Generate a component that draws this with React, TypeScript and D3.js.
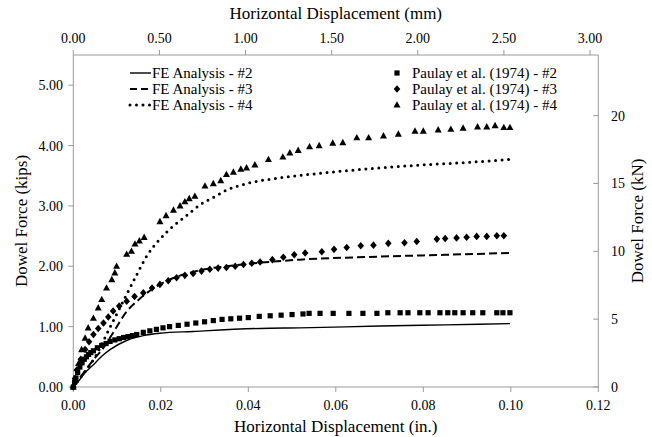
import React from "react";
import * as d3 from "d3";

const W = 652;
const H = 437;

// Horizontal displacement (in.) and dowel force (kips)
const fe2: [number, number][] = [
  [0, 0], [0.0008, 0.06], [0.0025, 0.22], [0.0046, 0.37], [0.0065, 0.51], [0.0084, 0.62],
  [0.0122, 0.77], [0.016, 0.85], [0.0198, 0.89], [0.0274, 0.92], [0.0427, 0.97],
  [0.0518, 0.98], [0.07, 1.01], [0.085, 1.03], [0.0998, 1.05],
];
const fe3: [number, number][] = [
  [0, 0], [0.002, 0.2], [0.0046, 0.45], [0.0069, 0.65], [0.0091, 0.9], [0.0122, 1.25],
  [0.015, 1.45], [0.018, 1.62], [0.022, 1.78], [0.026, 1.88], [0.03, 1.95], [0.035, 2.0],
  [0.04, 2.04], [0.0518, 2.11], [0.07, 2.16], [0.085, 2.19], [0.0998, 2.22],
];
const fe4: [number, number][] = [
  [0, 0], [0.0023, 0.22], [0.0046, 0.45], [0.0084, 0.99], [0.0114, 1.42], [0.0145, 1.86],
  [0.0168, 2.17], [0.0198, 2.45], [0.0229, 2.67], [0.0259, 2.84], [0.029, 3.02],
  [0.032, 3.14], [0.035, 3.26], [0.0396, 3.37], [0.0457, 3.45], [0.0537, 3.52],
  [0.062, 3.58], [0.07, 3.63], [0.08, 3.68], [0.09, 3.72], [0.0998, 3.77],
];
const paulay2: [number, number][] = [
  [0, 0], [0.0003, 0.08], [0.0006, 0.15], [0.001, 0.24], [0.0015, 0.33], [0.002, 0.4],
  [0.0025, 0.46], [0.003, 0.5], [0.0035, 0.54], [0.004, 0.57], [0.0046, 0.6], [0.0055, 0.65],
  [0.0065, 0.69], [0.0075, 0.72], [0.0084, 0.755], [0.0095, 0.78], [0.0105, 0.8],
  [0.0115, 0.82], [0.0125, 0.835], [0.0135, 0.85], [0.0145, 0.87], [0.016, 0.905],
  [0.0175, 0.93], [0.019, 0.955], [0.0205, 0.98], [0.022, 1.0], [0.024, 1.02], [0.026, 1.04],
  [0.028, 1.06], [0.03, 1.08], [0.032, 1.1], [0.034, 1.12], [0.036, 1.13], [0.038, 1.14],
  [0.04, 1.15], [0.0425, 1.17], [0.045, 1.18], [0.0475, 1.19], [0.05, 1.2],
  [0.0525, 1.21], [0.0539, 1.22], [0.0564, 1.22], [0.0594, 1.22], [0.063, 1.22],
  [0.0662, 1.22], [0.0694, 1.22], [0.0719, 1.23], [0.0747, 1.23], [0.0765, 1.23],
  [0.0792, 1.23], [0.0811, 1.23], [0.0838, 1.23], [0.0856, 1.23], [0.0872, 1.23],
  [0.0891, 1.23], [0.0913, 1.23], [0.0936, 1.23], [0.0968, 1.23], [0.0982, 1.23],
  [0.0998, 1.23],
];
const paulay3: [number, number][] = [
  [0, 0], [0.0004, 0.14], [0.0008, 0.28], [0.0017, 0.46], [0.0027, 0.62], [0.0036, 0.75],
  [0.0046, 0.87], [0.0057, 0.97], [0.0069, 1.06], [0.008, 1.16], [0.0091, 1.26],
  [0.0105, 1.34], [0.0122, 1.42], [0.014, 1.5], [0.016, 1.56], [0.018, 1.64], [0.0198, 1.7],
  [0.0217, 1.76], [0.0236, 1.81], [0.0255, 1.85], [0.0274, 1.88], [0.0293, 1.92],
  [0.0312, 1.95], [0.0331, 1.97], [0.035, 1.98], [0.037, 2.0], [0.0389, 2.03],
  [0.0408, 2.05], [0.0427, 2.07], [0.0455, 2.11], [0.048, 2.15], [0.0505, 2.19],
  [0.053, 2.22], [0.0568, 2.24], [0.0596, 2.28], [0.0625, 2.31], [0.0657, 2.34],
  [0.0686, 2.35], [0.072, 2.38], [0.0757, 2.39], [0.0785, 2.41], [0.0831, 2.45],
  [0.085, 2.46], [0.0876, 2.47], [0.0899, 2.48], [0.0922, 2.495], [0.0945, 2.495],
  [0.0968, 2.505], [0.0984, 2.505],
];
const paulay4: [number, number][] = [
  [0, 0], [0.0004, 0.12], [0.0012, 0.39], [0.0019, 0.62], [0.0027, 0.81], [0.0034, 0.98],
  [0.0046, 1.14], [0.0057, 1.31], [0.0065, 1.45], [0.0076, 1.64], [0.0088, 1.78],
  [0.0095, 1.89], [0.0099, 2.0], [0.0122, 2.2], [0.0133, 2.25], [0.0141, 2.37],
  [0.0151, 2.42], [0.0162, 2.48], [0.0198, 2.74], [0.0212, 2.84], [0.0229, 2.93],
  [0.0244, 3.0], [0.0255, 3.07], [0.0265, 3.12], [0.0278, 3.16], [0.0301, 3.33],
  [0.032, 3.37], [0.0337, 3.42], [0.035, 3.52], [0.0366, 3.56], [0.0383, 3.61],
  [0.0396, 3.63], [0.0415, 3.68], [0.0446, 3.77], [0.0479, 3.81], [0.0495, 3.88],
  [0.0514, 3.92], [0.054, 3.98], [0.0562, 4.0], [0.0593, 4.04], [0.0616, 4.05],
  [0.0648, 4.13], [0.0675, 4.13], [0.0709, 4.16], [0.0743, 4.19], [0.0781, 4.24],
  [0.08, 4.24], [0.0834, 4.26], [0.0863, 4.27], [0.0891, 4.29], [0.0924, 4.31],
  [0.0945, 4.31], [0.0964, 4.33], [0.0984, 4.3], [0.0998, 4.3],
];

const xTicksIn = [0, 0.02, 0.04, 0.06, 0.08, 0.1, 0.12];
const xTicksMm = [0, 0.5, 1.0, 1.5, 2.0, 2.5, 3.0];
const yTicksKips = [0, 1, 2, 3, 4, 5];
const yTicksKN = [0, 5, 10, 15, 20];

const feLabels = ["FE Analysis - #2", "FE Analysis - #3", "FE Analysis - #4"];
const expLabels = ["Paulay et al. (1974) - #2", "Paulay et al. (1974) - #3", "Paulay et al. (1974) - #4"];

const FONT = "Liberation Serif";
const AXIS = "#9a9a9a";

export default function App() {
  const left = 73.3, right = 598.3, top = 55, bottom = 387;
  const x = d3.scaleLinear().domain([0, 0.12]).range([left, right]);
  const xMm = d3.scaleLinear().domain([0, 0.12 * 25.4]).range([left, right]);
  const y = d3.scaleLinear().domain([0, 5.5]).range([bottom, top]);
  const yKN = d3.scaleLinear().domain([0, 5.5 * 4.448222]).range([bottom, top]);

  const line = d3.line<[number, number]>().x((d) => x(d[0])).y((d) => y(d[1])).curve(d3.curveMonotoneX);

  const dashes = ["none", "8 4", "0 6.5"];
  const widths = [1.4, 2, 3];
  const caps: ("butt" | "round")[] = ["butt", "butt", "round"];
  const ts = { fontFamily: FONT, fill: "#000" };

  const square = (cx: number, cy: number, k: string) => (
    <rect key={k} x={cx - 2.6} y={cy - 2.6} width={5.2} height={5.2} fill="#000" />
  );
  const diamond = (cx: number, cy: number, k: string) => (
    <path key={k} d={`M${cx},${cy - 3.8}L${cx + 3.3},${cy}L${cx},${cy + 3.8}L${cx - 3.3},${cy}Z`} fill="#000" />
  );
  const tri = (cx: number, cy: number, k: string) => (
    <path key={k} d={`M${cx},${cy - 3.8}L${cx + 3.5},${cy + 2.6}L${cx - 3.5},${cy + 2.6}Z`} fill="#000" />
  );

  return (
    <div style={{ position: "absolute", left: 0, top: 0 }}>
      <svg width={W} height={H} style={{ display: "block", background: "#fff" }}>
        <rect width={W} height={H} fill="#fff" />
        <line x1={left} x2={right} y1={bottom} y2={bottom} stroke={AXIS} />
        <line x1={left} x2={right} y1={top} y2={top} stroke={AXIS} />
        <line x1={left} x2={left} y1={top} y2={bottom} stroke={AXIS} />
        <line x1={right} x2={right} y1={top} y2={bottom} stroke={AXIS} />

        {xTicksIn.map((t) => (
          <g key={"xb" + t}>
            <line x1={x(t)} x2={x(t)} y1={bottom} y2={bottom + 5} stroke={AXIS} />
            <text x={x(t)} y={410} textAnchor="middle" fontSize={14} style={ts}>{t.toFixed(2)}</text>
          </g>
        ))}
        {xTicksMm.map((t) => (
          <g key={"xt" + t}>
            <line x1={xMm(t)} x2={xMm(t)} y1={top} y2={top - 5} stroke={AXIS} />
            <text x={xMm(t)} y={43} textAnchor="middle" fontSize={14} style={ts}>{t.toFixed(2)}</text>
          </g>
        ))}
        {yTicksKips.map((t) => (
          <g key={"yl" + t}>
            <line x1={left - 5} x2={left} y1={y(t)} y2={y(t)} stroke={AXIS} />
            <text x={63} y={y(t) + 5} textAnchor="end" fontSize={14} style={ts}>{t.toFixed(2)}</text>
          </g>
        ))}
        {yTicksKN.map((t) => (
          <g key={"yr" + t}>
            <line x1={right - 5} x2={right} y1={yKN(t)} y2={yKN(t)} stroke={AXIS} />
            <text x={611} y={yKN(t) + 5} textAnchor="start" fontSize={14} style={ts}>{t}</text>
          </g>
        ))}

        <text x={(left + right) / 2} y={432} textAnchor="middle" fontSize={17} style={ts}>Horizontal Displacement (in.)</text>
        <text x={(left + right) / 2} y={19} textAnchor="middle" fontSize={17} style={ts}>Horizontal Displacement (mm)</text>
        <text transform={`translate(27,${(top + bottom) / 2}) rotate(-90)`} textAnchor="middle" fontSize={17} style={ts}>Dowel Force (kips)</text>
        <text transform={`translate(643,${(top + bottom) / 2}) rotate(-90)`} textAnchor="middle" fontSize={17} style={ts}>Dowel Force (kN)</text>

        {[fe2, fe3, fe4].map((s, i) => (
          <path key={"fe" + i} d={line(s) || ""} fill="none" stroke="#000" strokeWidth={widths[i]}
            strokeDasharray={dashes[i]} strokeLinecap={caps[i]} />
        ))}

        {paulay2.map((d, i) => square(x(d[0]), y(d[1]), "p2" + i))}
        {paulay3.map((d, i) => diamond(x(d[0]), y(d[1]), "p3" + i))}
        {paulay4.map((d, i) => tri(x(d[0]), y(d[1]), "p4" + i))}

        {feLabels.map((l, i) => (
          <g key={"lf" + i}>
            <line x1={130} x2={151} y1={73 + i * 16} y2={73 + i * 16} stroke="#000" strokeWidth={widths[i]}
              strokeDasharray={i === 1 ? "7 4" : dashes[i]} strokeLinecap={caps[i]} />
            <text x={152} y={78 + i * 16} fontSize={15} style={ts}>{l}</text>
          </g>
        ))}
        {expLabels.map((l, i) => (
          <g key={"le" + i}>
            {i === 0 ? square(397, 73, "ls") : i === 1 ? diamond(397, 89, "ld") : tri(397, 105, "lt")}
            <text x={412} y={78 + i * 16} fontSize={15} style={ts}>{l}</text>
          </g>
        ))}
      </svg>
    </div>
  );
}
